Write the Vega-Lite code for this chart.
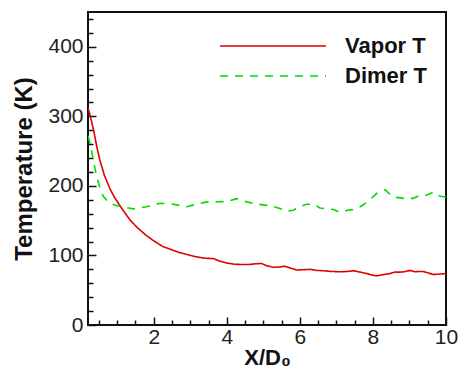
{
  "$schema": "https://vega.github.io/schema/vega-lite/v6.json",
  "width": 358,
  "height": 313,
  "autosize": "none",
  "padding": {"left": 88, "top": 12, "right": 14, "bottom": 44},
  "background": "white",
  "config": {
    "view": {"stroke": "#111", "strokeWidth": 2},
    "font": "Liberation Sans"
  },
  "data": {
    "values": [
      {"x": 0.2, "T": 312, "s": "Vapor T"},
      {"x": 0.25, "T": 303, "s": "Vapor T"},
      {"x": 0.35, "T": 281, "s": "Vapor T"},
      {"x": 0.45, "T": 254, "s": "Vapor T"},
      {"x": 0.52, "T": 238, "s": "Vapor T"},
      {"x": 0.65, "T": 215, "s": "Vapor T"},
      {"x": 0.8, "T": 196, "s": "Vapor T"},
      {"x": 0.92, "T": 184, "s": "Vapor T"},
      {"x": 1.03, "T": 175, "s": "Vapor T"},
      {"x": 1.2, "T": 162, "s": "Vapor T"},
      {"x": 1.35, "T": 151, "s": "Vapor T"},
      {"x": 1.55, "T": 140, "s": "Vapor T"},
      {"x": 1.79, "T": 129, "s": "Vapor T"},
      {"x": 2.0, "T": 121, "s": "Vapor T"},
      {"x": 2.24, "T": 113, "s": "Vapor T"},
      {"x": 2.5, "T": 108, "s": "Vapor T"},
      {"x": 2.71, "T": 104, "s": "Vapor T"},
      {"x": 3.0, "T": 100, "s": "Vapor T"},
      {"x": 3.17, "T": 98, "s": "Vapor T"},
      {"x": 3.4, "T": 96, "s": "Vapor T"},
      {"x": 3.63, "T": 95.5, "s": "Vapor T"},
      {"x": 3.8, "T": 92, "s": "Vapor T"},
      {"x": 4.0, "T": 89, "s": "Vapor T"},
      {"x": 4.2, "T": 87.5, "s": "Vapor T"},
      {"x": 4.36, "T": 87, "s": "Vapor T"},
      {"x": 4.6, "T": 87, "s": "Vapor T"},
      {"x": 4.8, "T": 88, "s": "Vapor T"},
      {"x": 4.95, "T": 88.5, "s": "Vapor T"},
      {"x": 5.1, "T": 85, "s": "Vapor T"},
      {"x": 5.28, "T": 83, "s": "Vapor T"},
      {"x": 5.45, "T": 83.5, "s": "Vapor T"},
      {"x": 5.58, "T": 84.5, "s": "Vapor T"},
      {"x": 5.7, "T": 82.5, "s": "Vapor T"},
      {"x": 5.92, "T": 79, "s": "Vapor T"},
      {"x": 6.1, "T": 79.5, "s": "Vapor T"},
      {"x": 6.28, "T": 80, "s": "Vapor T"},
      {"x": 6.45, "T": 78.5, "s": "Vapor T"},
      {"x": 6.65, "T": 78, "s": "Vapor T"},
      {"x": 6.85, "T": 77, "s": "Vapor T"},
      {"x": 7.1, "T": 76.5, "s": "Vapor T"},
      {"x": 7.3, "T": 77, "s": "Vapor T"},
      {"x": 7.47, "T": 78, "s": "Vapor T"},
      {"x": 7.65, "T": 76, "s": "Vapor T"},
      {"x": 7.83, "T": 74, "s": "Vapor T"},
      {"x": 8.0, "T": 71.5, "s": "Vapor T"},
      {"x": 8.1, "T": 70.7, "s": "Vapor T"},
      {"x": 8.3, "T": 72.5, "s": "Vapor T"},
      {"x": 8.47, "T": 74, "s": "Vapor T"},
      {"x": 8.6, "T": 76, "s": "Vapor T"},
      {"x": 8.75, "T": 76, "s": "Vapor T"},
      {"x": 8.85, "T": 76.5, "s": "Vapor T"},
      {"x": 9.02, "T": 78.5, "s": "Vapor T"},
      {"x": 9.15, "T": 76.5, "s": "Vapor T"},
      {"x": 9.25, "T": 77, "s": "Vapor T"},
      {"x": 9.38, "T": 77, "s": "Vapor T"},
      {"x": 9.5, "T": 75, "s": "Vapor T"},
      {"x": 9.66, "T": 72.7, "s": "Vapor T"},
      {"x": 9.8, "T": 73, "s": "Vapor T"},
      {"x": 10.0, "T": 74, "s": "Vapor T"},
      {"x": 0.2, "T": 272, "s": "Dimer T"},
      {"x": 0.25, "T": 262, "s": "Dimer T"},
      {"x": 0.3, "T": 250, "s": "Dimer T"},
      {"x": 0.37, "T": 230, "s": "Dimer T"},
      {"x": 0.44, "T": 213, "s": "Dimer T"},
      {"x": 0.52, "T": 198, "s": "Dimer T"},
      {"x": 0.62, "T": 185, "s": "Dimer T"},
      {"x": 0.75, "T": 177, "s": "Dimer T"},
      {"x": 0.9, "T": 173, "s": "Dimer T"},
      {"x": 1.1, "T": 170, "s": "Dimer T"},
      {"x": 1.44, "T": 167, "s": "Dimer T"},
      {"x": 1.8, "T": 170, "s": "Dimer T"},
      {"x": 2.17, "T": 175, "s": "Dimer T"},
      {"x": 2.5, "T": 174, "s": "Dimer T"},
      {"x": 2.9, "T": 170, "s": "Dimer T"},
      {"x": 3.2, "T": 174, "s": "Dimer T"},
      {"x": 3.45, "T": 177, "s": "Dimer T"},
      {"x": 4.0, "T": 177.5, "s": "Dimer T"},
      {"x": 4.27, "T": 181.7, "s": "Dimer T"},
      {"x": 4.55, "T": 177, "s": "Dimer T"},
      {"x": 4.8, "T": 174, "s": "Dimer T"},
      {"x": 5.1, "T": 172, "s": "Dimer T"},
      {"x": 5.3, "T": 170, "s": "Dimer T"},
      {"x": 5.47, "T": 167, "s": "Dimer T"},
      {"x": 5.64, "T": 163.6, "s": "Dimer T"},
      {"x": 5.82, "T": 165, "s": "Dimer T"},
      {"x": 6.0, "T": 170, "s": "Dimer T"},
      {"x": 6.18, "T": 173.6, "s": "Dimer T"},
      {"x": 6.37, "T": 173.6, "s": "Dimer T"},
      {"x": 6.55, "T": 168.3, "s": "Dimer T"},
      {"x": 6.75, "T": 167, "s": "Dimer T"},
      {"x": 6.92, "T": 166, "s": "Dimer T"},
      {"x": 7.1, "T": 161.7, "s": "Dimer T"},
      {"x": 7.3, "T": 165, "s": "Dimer T"},
      {"x": 7.47, "T": 166, "s": "Dimer T"},
      {"x": 7.65, "T": 170, "s": "Dimer T"},
      {"x": 7.83, "T": 176, "s": "Dimer T"},
      {"x": 8.1, "T": 189, "s": "Dimer T"},
      {"x": 8.33, "T": 194.6, "s": "Dimer T"},
      {"x": 8.45, "T": 189, "s": "Dimer T"},
      {"x": 8.56, "T": 184, "s": "Dimer T"},
      {"x": 8.84, "T": 182, "s": "Dimer T"},
      {"x": 9.1, "T": 182, "s": "Dimer T"},
      {"x": 9.29, "T": 186.5, "s": "Dimer T"},
      {"x": 9.47, "T": 186.5, "s": "Dimer T"},
      {"x": 9.66, "T": 191, "s": "Dimer T"},
      {"x": 9.84, "T": 185, "s": "Dimer T"},
      {"x": 10.0, "T": 184, "s": "Dimer T"}
    ]
  },
  "mark": {"type": "line", "strokeWidth": 1.6, "clip": true},
  "encoding": {
    "x": {
      "field": "x", "type": "quantitative",
      "scale": {"domain": [0.2, 10], "nice": false, "zero": false},
      "axis": {
        "title": "X/D₀",
        "values": [0.5, 1, 1.5, 2, 2.5, 3, 3.5, 4, 4.5, 5, 5.5, 6, 6.5, 7, 7.5, 8, 8.5, 9, 9.5, 10],
        "labelExpr": "datum.value % 2 === 0 ? datum.value : ''",
        "grid": false, "domain": false,
        "tickColor": "#111", "tickWidth": 1.5,
        "tickSize": {"condition": {"test": "datum.value % 2 === 0", "value": -8}, "value": -5},
        "labelFontSize": 21, "labelColor": "#222", "labelPadding": 9,
        "labelFlush": false, "labelOverlap": false,
        "titleFontSize": 22, "titleFontWeight": "bold", "titleColor": "#111", "titlePadding": -3
      }
    },
    "y": {
      "field": "T", "type": "quantitative",
      "scale": {"domain": [0, 450], "nice": false},
      "axis": {
        "title": "Temperature (K)",
        "values": [0, 20, 40, 60, 80, 100, 120, 140, 160, 180, 200, 220, 240, 260, 280, 300, 320, 340, 360, 380, 400, 420, 440],
        "labelExpr": "datum.value % 100 === 0 ? datum.value : ''",
        "grid": false, "domain": false,
        "tickColor": "#111", "tickWidth": 1.5,
        "tickSize": {"condition": {"test": "datum.value % 100 === 0", "value": -8}, "value": -5},
        "labelFontSize": 21, "labelColor": "#222", "labelPadding": 13,
        "labelFlush": false, "labelOverlap": false,
        "titleFontSize": 24, "titleFontWeight": "bold", "titleColor": "#111", "titlePadding": 11
      }
    },
    "color": {
      "field": "s", "type": "nominal",
      "scale": {"domain": ["Vapor T", "Dimer T"], "range": ["#e00000", "#00dd00"]},
      "legend": {
        "orient": "none", "legendX": 131, "legendY": 24, "title": null,
        "symbolType": "stroke", "symbolSize": 11236, "symbolStrokeWidth": 1.6,
        "clipHeight": 20, "rowPadding": 8, "labelOffset": 18, "padding": 0,
        "labelFontSize": 22, "labelFontWeight": "bold", "labelColor": "#111"
      }
    },
    "strokeDash": {
      "field": "s", "type": "nominal",
      "scale": {"domain": ["Vapor T", "Dimer T"], "range": [[1, 0], [8, 7]]},
      "legend": null
    }
  }
}
